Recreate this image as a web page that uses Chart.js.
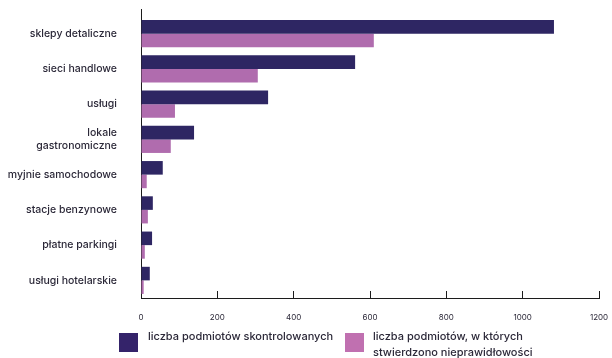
<!DOCTYPE html>
<html>
<head>
<meta charset="utf-8">
<script src="https://cdn.jsdelivr.net/npm/chart.js@4"></script>
<style>
  html, body { margin: 0; padding: 0; background: #ffffff; }
  #wrap { position: relative; width: 612px; height: 358px; overflow: hidden; }
  #legend { position: absolute; left: 0; top: 0; width: 612px; height: 358px; pointer-events: none;
            font-family: Inter, "Open Sans", sans-serif; font-size: 11px; font-weight: 500; color: #2b2838; }
  .lg-box { position: absolute; width: 19px; height: 19px; }
  .lg-text { position: absolute; line-height: 16px; white-space: nowrap; }
</style>
</head>
<body>
<div id="wrap">
  <canvas id="c" width="612" height="358"></canvas>
  <div id="legend"></div>
</div>
<script>
const categories = [
  'sklepy detaliczne',
  'sieci handlowe',
  'usługi',
  ['lokale', 'gastronomiczne'],
  'myjnie samochodowe',
  'stacje benzynowe',
  'płatne parkingi',
  'usługi hotelarskie'
];
const controlled = [1082, 561, 333, 139, 57, 31, 29, 23];
const irregular  = [610, 306, 89, 78, 15, 18, 10, 7];
const seriesNames = [
  ['liczba podmiotów skontrolowanych'],
  ['liczba podmiotów, w których', 'stwierdzono nieprawidłowości']
];
const xTicks = { min: 0, max: 1200, step: 200 };

const colors = ['#2e2663', '#b06cae'];
const legendColors = ['#34236a', '#c070b0'];
const textColor = '#2b2838';
const axisColor = '#1c1c1c';
const fontFamily = 'Inter, "Open Sans", sans-serif';

const yAxisExtend = {
  id: 'yAxisExtend',
  afterDraw(chart) {
    const { ctx, chartArea } = chart;
    ctx.save();
    ctx.strokeStyle = axisColor;
    ctx.lineWidth = 1;
    ctx.beginPath();
    ctx.moveTo(Math.round(chartArea.left) + 0.5, chartArea.top - 7);
    ctx.lineTo(Math.round(chartArea.left) + 0.5, chartArea.top + 1);
    ctx.stroke();
    ctx.restore();
  }
};

const chart = new Chart(document.getElementById('c'), {
  type: 'bar',
  data: {
    labels: categories,
    datasets: [
      { label: seriesNames[0].join(' '), data: controlled, backgroundColor: colors[0],
        categoryPercentage: 0.77, barPercentage: 1.0 },
      { label: seriesNames[1].join(' '), data: irregular, backgroundColor: colors[1],
        categoryPercentage: 0.77, barPercentage: 1.0 }
    ]
  },
  options: {
    indexAxis: 'y',
    responsive: false,
    animation: false,
    devicePixelRatio: 1,
    layout: { padding: { top: 16, right: 13, bottom: 30, left: 0 } },
    plugins: {
      legend: { display: false },
      tooltip: { enabled: false }
    },
    scales: {
      x: {
        min: xTicks.min,
        max: xTicks.max,
        ticks: {
          stepSize: xTicks.step,
          color: textColor,
          font: { family: fontFamily, size: 8 },
          padding: 22,
          maxRotation: 0,
          callback: (v) => String(v)
        },
        grid: {
          drawOnChartArea: false,
          drawTicks: true,
          tickLength: -7,
          tickColor: axisColor,
          lineWidth: 1
        },
        border: { display: true, color: axisColor, width: 1 },
        afterFit(scale) { scale.height = 30; scale.paddingLeft = 0; scale.paddingRight = 0; }
      },
      y: {
        ticks: {
          color: textColor,
          font: { family: fontFamily, size: 10.5, weight: '500' },
          padding: 24,
          autoSkip: false
        },
        grid: { drawOnChartArea: false, drawTicks: false },
        border: { display: true, color: axisColor, width: 1 },
        afterFit(scale) { scale.width = 141; scale.paddingTop = 0; scale.paddingBottom = 0; }
      }
    }
  },
  plugins: [yAxisExtend]
});

// HTML legend built from the dataset names and colours
const legendPos = [ { box: 119, text: 148 }, { box: 345, text: 373 } ];
const legendEl = document.getElementById('legend');
seriesNames.forEach((lines, i) => {
  const box = document.createElement('div');
  box.className = 'lg-box';
  box.style.left = legendPos[i].box + 'px';
  box.style.top = '333px';
  box.style.background = legendColors[i];
  legendEl.appendChild(box);
  const t = document.createElement('div');
  t.className = 'lg-text';
  t.style.left = legendPos[i].text + 'px';
  t.style.top = '328px';
  t.innerHTML = lines.join('<br>');
  legendEl.appendChild(t);
});
</script>
</body>
</html>
